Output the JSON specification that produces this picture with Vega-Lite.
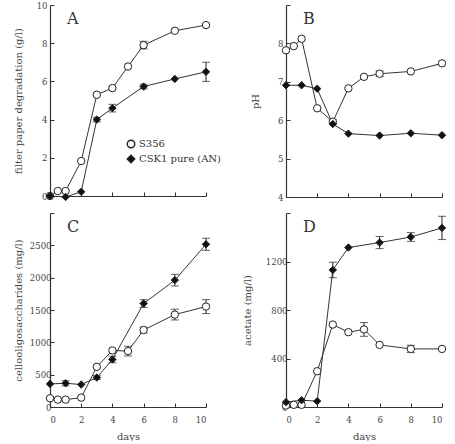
{
  "$schema": "https://vega.github.io/schema/vega-lite/v6.json",
  "padding": {"left": 13, "top": 1, "right": 5, "bottom": 0},
  "background": "white",
  "config": {
    "font": "DejaVu Serif",
    "view": {"stroke": null},
    "axis": {
      "grid": false,
      "domainColor": "#333",
      "domainWidth": 1.2,
      "tickColor": "#333",
      "tickWidth": 1,
      "tickSize": -4,
      "labelColor": "#444",
      "labelFont": "DejaVu Serif",
      "labelFontSize": 8.5,
      "labelOverlap": false,
      "titleColor": "#444",
      "titleFont": "DejaVu Serif",
      "titleFontSize": 10,
      "titleFontWeight": "normal",
      "format": "d"
    },
    "title": {"fontSize": 16, "fontWeight": "normal", "anchor": "start", "frame": "group", "color": "#333", "font": "DejaVu Serif"}
  },
  "datasets": {
    "fp": [
      {"day": 0, "strain": "S356", "v": 0, "err": 0},
      {"day": 0.5, "strain": "S356", "v": 0.26, "err": 0},
      {"day": 1, "strain": "S356", "v": 0.26, "err": 0},
      {"day": 2, "strain": "S356", "v": 1.83, "err": 0},
      {"day": 3, "strain": "S356", "v": 5.3, "err": 0},
      {"day": 4, "strain": "S356", "v": 5.65, "err": 0},
      {"day": 5, "strain": "S356", "v": 6.78, "err": 0},
      {"day": 6, "strain": "S356", "v": 7.9, "err": 0.2},
      {"day": 8, "strain": "S356", "v": 8.65, "err": 0},
      {"day": 10, "strain": "S356", "v": 8.95, "err": 0},
      {"day": 0, "strain": "CSK1 pure (AN)", "v": 0, "err": 0},
      {"day": 1, "strain": "CSK1 pure (AN)", "v": -0.05, "err": 0},
      {"day": 2, "strain": "CSK1 pure (AN)", "v": 0.22, "err": 0},
      {"day": 3, "strain": "CSK1 pure (AN)", "v": 4.0, "err": 0.12},
      {"day": 4, "strain": "CSK1 pure (AN)", "v": 4.6, "err": 0.2},
      {"day": 6, "strain": "CSK1 pure (AN)", "v": 5.73, "err": 0.12},
      {"day": 8, "strain": "CSK1 pure (AN)", "v": 6.13, "err": 0},
      {"day": 10, "strain": "CSK1 pure (AN)", "v": 6.5, "err": 0.5}
    ],
    "ph": [
      {"day": 0, "strain": "S356", "v": 7.82, "err": 0},
      {"day": 0.5, "strain": "S356", "v": 7.93, "err": 0},
      {"day": 1, "strain": "S356", "v": 8.12, "err": 0},
      {"day": 2, "strain": "S356", "v": 6.31, "err": 0},
      {"day": 3, "strain": "S356", "v": 5.96, "err": 0.05},
      {"day": 4, "strain": "S356", "v": 6.83, "err": 0},
      {"day": 5, "strain": "S356", "v": 7.13, "err": 0},
      {"day": 6, "strain": "S356", "v": 7.21, "err": 0.07},
      {"day": 8, "strain": "S356", "v": 7.27, "err": 0},
      {"day": 10, "strain": "S356", "v": 7.48, "err": 0},
      {"day": 0, "strain": "CSK1 pure (AN)", "v": 6.91, "err": 0},
      {"day": 1, "strain": "CSK1 pure (AN)", "v": 6.91, "err": 0},
      {"day": 2, "strain": "CSK1 pure (AN)", "v": 6.82, "err": 0},
      {"day": 3, "strain": "CSK1 pure (AN)", "v": 5.9, "err": 0},
      {"day": 4, "strain": "CSK1 pure (AN)", "v": 5.65, "err": 0},
      {"day": 6, "strain": "CSK1 pure (AN)", "v": 5.6, "err": 0},
      {"day": 8, "strain": "CSK1 pure (AN)", "v": 5.66, "err": 0},
      {"day": 10, "strain": "CSK1 pure (AN)", "v": 5.61, "err": 0}
    ],
    "co": [
      {"day": 0, "strain": "S356", "v": 135, "err": 0},
      {"day": 0.5, "strain": "S356", "v": 114, "err": 0},
      {"day": 1, "strain": "S356", "v": 114, "err": 0},
      {"day": 2, "strain": "S356", "v": 145, "err": 0},
      {"day": 3, "strain": "S356", "v": 621, "err": 0},
      {"day": 4, "strain": "S356", "v": 875, "err": 0},
      {"day": 5, "strain": "S356", "v": 864, "err": 75},
      {"day": 6, "strain": "S356", "v": 1190, "err": 45},
      {"day": 8, "strain": "S356", "v": 1429, "err": 83},
      {"day": 10, "strain": "S356", "v": 1553, "err": 108},
      {"day": 0, "strain": "CSK1 pure (AN)", "v": 357, "err": 0},
      {"day": 1, "strain": "CSK1 pure (AN)", "v": 367, "err": 40},
      {"day": 2, "strain": "CSK1 pure (AN)", "v": 347, "err": 0},
      {"day": 3, "strain": "CSK1 pure (AN)", "v": 455, "err": 30},
      {"day": 4, "strain": "CSK1 pure (AN)", "v": 735, "err": 50},
      {"day": 6, "strain": "CSK1 pure (AN)", "v": 1600, "err": 60},
      {"day": 8, "strain": "CSK1 pure (AN)", "v": 1962, "err": 90},
      {"day": 10, "strain": "CSK1 pure (AN)", "v": 2516, "err": 93}
    ],
    "ac": [
      {"day": 0, "strain": "S356", "v": 12, "err": 0},
      {"day": 0.5, "strain": "S356", "v": 18, "err": 0},
      {"day": 1, "strain": "S356", "v": 18, "err": 0},
      {"day": 2, "strain": "S356", "v": 295, "err": 0},
      {"day": 3, "strain": "S356", "v": 680, "err": 0},
      {"day": 4, "strain": "S356", "v": 617, "err": 0},
      {"day": 5, "strain": "S356", "v": 640, "err": 57},
      {"day": 6, "strain": "S356", "v": 512, "err": 0},
      {"day": 8, "strain": "S356", "v": 479, "err": 30},
      {"day": 10, "strain": "S356", "v": 479, "err": 0},
      {"day": 0, "strain": "CSK1 pure (AN)", "v": 40, "err": 0},
      {"day": 1, "strain": "CSK1 pure (AN)", "v": 56, "err": 0},
      {"day": 2, "strain": "CSK1 pure (AN)", "v": 48, "err": 0},
      {"day": 3, "strain": "CSK1 pure (AN)", "v": 1130, "err": 64},
      {"day": 4, "strain": "CSK1 pure (AN)", "v": 1315, "err": 0},
      {"day": 6, "strain": "CSK1 pure (AN)", "v": 1356, "err": 50},
      {"day": 8, "strain": "CSK1 pure (AN)", "v": 1402, "err": 36},
      {"day": 10, "strain": "CSK1 pure (AN)", "v": 1477, "err": 96}
    ]
  },
  "columns": 2,
  "spacing": {"row": 16, "column": 80},
  "bounds": "flush",
  "resolve": {
    "scale": {"x": "independent", "y": "independent", "shape": "independent", "fill": "independent"},
    "legend": {"shape": "independent", "fill": "independent"}
  },
  "concat": [
    {
      "width": 156,
      "height": 191,
      "title": {"text": "A", "offset": -26, "dx": 17},
      "data": {"name": "fp"},
      "encoding": {
        "x": {"field": "day", "type": "quantitative", "scale": {"domain": [0, 10]},
              "axis": {"values": [0, 2, 4, 6, 8, 10], "labels": false, "title": null}},
        "y": {"field": "v", "type": "quantitative", "scale": {"domain": [0, 10]}, "title": "filter paper degradation (g/l)",
              "axis": {"values": [0, 2, 4, 6, 8, 10], "titleX": -27, "labelPadding": 7}}
      },
      "layer": [
        {
          "mark": {"type": "line", "color": "#333", "strokeWidth": 1},
          "encoding": {"detail": {"field": "strain"}}
        },
        {
          "transform": [{"filter": "datum.err > 0"}],
          "mark": {"type": "errorbar", "color": "#222", "ticks": {"size": 8}},
          "encoding": {"yError": {"field": "err"}}
        },
        {
          "mark": {"type": "point", "filled": true, "stroke": "#222", "strokeWidth": 1, "opacity": 1, "size": 55},
          "encoding": {
            "shape": {"field": "strain", "type": "nominal",
                      "scale": {"domain": ["S356", "CSK1 pure (AN)"], "range": ["circle", "diamond"]},
                      "legend": {"orient": "none", "legendX": 76, "legendY": 134, "title": null, "padding": 0,
                                 "labelFontSize": 10, "labelColor": "#333", "labelFont": "DejaVu Serif",
                                 "rowPadding": 1, "labelOffset": 3, "symbolSize": 55}},
            "fill": {"field": "strain", "type": "nominal",
                     "scale": {"domain": ["S356", "CSK1 pure (AN)"], "range": ["white", "#111"]},
                     "legend": {"orient": "none", "legendX": 76, "legendY": 134, "title": null, "padding": 0,
                                "labelFontSize": 10, "labelColor": "#333", "labelFont": "DejaVu Serif",
                                "rowPadding": 1, "labelOffset": 3, "symbolSize": 55}}
          }
        }
      ]
    },
    {
      "width": 156,
      "height": 192,
      "title": {"text": "B", "offset": -26, "dx": 17},
      "data": {"name": "ph"},
      "encoding": {
        "x": {"field": "day", "type": "quantitative", "scale": {"domain": [0, 10]},
              "axis": {"values": [0, 2, 4, 6, 8, 10], "labels": false, "title": null}},
        "y": {"field": "v", "type": "quantitative", "scale": {"domain": [4, 9]}, "title": "pH",
              "axis": {"values": [4, 5, 6, 7, 8, 9], "labelExpr": "datum.value == 9 ? '' : datum.label", "titleX": -26, "labelPadding": 7}}
      },
      "layer": [
        {
          "mark": {"type": "line", "color": "#333", "strokeWidth": 1},
          "encoding": {"detail": {"field": "strain"}}
        },
        {
          "transform": [{"filter": "datum.err > 0"}],
          "mark": {"type": "errorbar", "color": "#222", "ticks": {"size": 8}},
          "encoding": {"yError": {"field": "err"}}
        },
        {
          "mark": {"type": "point", "filled": true, "stroke": "#222", "strokeWidth": 1, "opacity": 1, "size": 55},
          "encoding": {
            "shape": {"field": "strain", "type": "nominal",
                      "scale": {"domain": ["S356", "CSK1 pure (AN)"], "range": ["circle", "diamond"]}, "legend": null},
            "fill": {"field": "strain", "type": "nominal",
                     "scale": {"domain": ["S356", "CSK1 pure (AN)"], "range": ["white", "#111"]}, "legend": null}
          }
        }
      ]
    },
    {
      "width": 156,
      "height": 194,
      "title": {"text": "C", "offset": -26, "dx": 17},
      "data": {"name": "co"},
      "encoding": {
        "x": {"field": "day", "type": "quantitative", "scale": {"domain": [0, 10]}, "title": "days",
              "axis": {"values": [0, 2, 4, 6, 8, 10], "labelPadding": 12, "titleY": 24}},
        "y": {"field": "v", "type": "quantitative", "scale": {"domain": [0, 3000]}, "title": "cellooligosaccharides (mg/l)",
              "axis": {"values": [0, 500, 1000, 1500, 2000, 2500, 3000], "labelExpr": "datum.value == 3000 ? '' : datum.label", "titleX": -27, "labelPadding": 3}}
      },
      "layer": [
        {
          "mark": {"type": "line", "color": "#333", "strokeWidth": 1},
          "encoding": {"detail": {"field": "strain"}}
        },
        {
          "transform": [{"filter": "datum.err > 0"}],
          "mark": {"type": "errorbar", "color": "#222", "ticks": {"size": 8}},
          "encoding": {"yError": {"field": "err"}}
        },
        {
          "mark": {"type": "point", "filled": true, "stroke": "#222", "strokeWidth": 1, "opacity": 1, "size": 55},
          "encoding": {
            "shape": {"field": "strain", "type": "nominal",
                      "scale": {"domain": ["S356", "CSK1 pure (AN)"], "range": ["circle", "diamond"]}, "legend": null},
            "fill": {"field": "strain", "type": "nominal",
                     "scale": {"domain": ["S356", "CSK1 pure (AN)"], "range": ["white", "#111"]}, "legend": null}
          }
        }
      ]
    },
    {
      "width": 156,
      "height": 194,
      "title": {"text": "D", "offset": -26, "dx": 17},
      "data": {"name": "ac"},
      "encoding": {
        "x": {"field": "day", "type": "quantitative", "scale": {"domain": [0, 10]}, "title": "days",
              "axis": {"values": [0, 2, 4, 6, 8, 10], "labelPadding": 12, "titleY": 24}},
        "y": {"field": "v", "type": "quantitative", "scale": {"domain": [0, 1600]}, "title": "acetate (mg/l)",
              "axis": {"values": [0, 400, 800, 1200, 1600], "labelExpr": "datum.value == 1600 ? '' : datum.label", "titleX": -34, "labelPadding": 3}}
      },
      "layer": [
        {
          "mark": {"type": "line", "color": "#333", "strokeWidth": 1},
          "encoding": {"detail": {"field": "strain"}}
        },
        {
          "transform": [{"filter": "datum.err > 0"}],
          "mark": {"type": "errorbar", "color": "#222", "ticks": {"size": 8}},
          "encoding": {"yError": {"field": "err"}}
        },
        {
          "mark": {"type": "point", "filled": true, "stroke": "#222", "strokeWidth": 1, "opacity": 1, "size": 55},
          "encoding": {
            "shape": {"field": "strain", "type": "nominal",
                      "scale": {"domain": ["S356", "CSK1 pure (AN)"], "range": ["circle", "diamond"]}, "legend": null},
            "fill": {"field": "strain", "type": "nominal",
                     "scale": {"domain": ["S356", "CSK1 pure (AN)"], "range": ["white", "#111"]}, "legend": null}
          }
        }
      ]
    }
  ]
}
